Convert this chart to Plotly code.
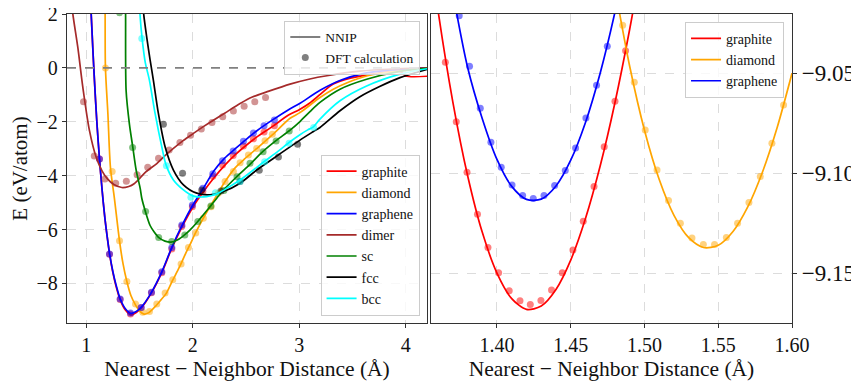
import plotly.graph_objects as go

# ---- left panel: NNIP curves ----
graphite_x = [1.035, 1.047, 1.062, 1.078, 1.10, 1.125, 1.15, 1.175, 1.20, 1.22, 1.25, 1.28, 1.32, 1.37, 1.42,
              1.47, 1.52, 1.61, 1.71, 1.80, 1.90, 2.0, 2.1, 2.2, 2.3, 2.4, 2.5, 2.6, 2.75, 2.9, 3.0, 3.1,
              3.2, 3.32, 3.48, 3.7, 3.9, 3.96, 4.0, 4.2]
graphite_y = [2.8, 2.0, 0.75, -0.48, -2.0, -3.38, -4.55, -5.55, -6.35, -6.92, -7.58, -8.1, -8.62, -9.0, -9.17,
              -9.08, -8.9, -8.37, -7.6, -6.73, -5.9, -5.18, -4.6, -4.08, -3.62, -3.22, -2.88, -2.57, -2.17, -1.75,
              -1.55, -1.3, -0.97, -0.6, -0.38, -0.22, -0.12, -0.15, -0.30, -0.31]

graphene_x = [1.035, 1.047, 1.062, 1.078, 1.10, 1.125, 1.15, 1.175, 1.20, 1.22, 1.25, 1.28, 1.32, 1.37, 1.42,
              1.47, 1.52, 1.61, 1.71, 1.80, 1.90, 2.0, 2.1, 2.2, 2.3, 2.4, 2.5, 2.6, 2.75, 2.9, 3.0, 3.2,
              3.4, 3.6, 3.8, 4.0, 4.2]
graphene_y = [2.8, 2.0, 0.75, -0.48, -2.0, -3.38, -4.55, -5.55, -6.35, -6.9, -7.55, -8.05, -8.58, -8.95, -9.11,
              -9.04, -8.87, -8.35, -7.57, -6.7, -5.85, -5.1, -4.47, -3.82, -3.35, -3.0, -2.66, -2.34, -1.93, -1.55,
              -1.33, -0.82, -0.44, -0.21, -0.1, -0.04, 0.0]

diamond_x = [1.176, 1.178, 1.181, 1.204, 1.228, 1.265, 1.313, 1.345, 1.382, 1.42, 1.463, 1.50, 1.543, 1.59,
             1.65, 1.70, 1.75, 1.81, 1.875, 1.93, 1.976, 2.03, 2.116, 2.2, 2.304, 2.4, 2.476, 2.6, 2.75, 2.914,
             3.007, 3.195, 3.32, 3.45, 3.633, 3.8, 3.946, 4.2]
diamond_y = [3.0, 2.0, 0.0, -1.71, -3.7, -4.84, -6.42, -7.25, -7.93, -8.45, -8.8, -9.02, -9.14, -9.08,
             -8.85, -8.62, -8.38, -7.9, -7.4, -6.92, -6.55, -6.1, -5.46, -4.9, -4.22, -3.7, -3.42, -3.0, -2.48,
             -1.87, -1.66, -1.1, -0.79, -0.55, -0.3, -0.18, -0.11, -0.02]

dimer_x = [0.86, 0.875, 0.922, 0.969, 1.031, 1.094, 1.15, 1.20, 1.26, 1.335, 1.40, 1.45, 1.507, 1.56, 1.663,
           1.74, 1.819, 1.91, 2.007, 2.1, 2.194, 2.3, 2.445, 2.56, 2.695, 2.914, 3.1, 3.26, 3.57, 3.88, 4.2]
dimer_y = [2.6, 2.0, 0.75, -0.73, -2.33, -3.32, -3.83, -4.12, -4.33, -4.44, -4.4, -4.3, -4.08, -3.86, -3.55,
           -3.26, -2.99, -2.7, -2.43, -2.18, -1.94, -1.68, -1.32, -1.08, -0.89, -0.60, -0.41, -0.29, -0.12, -0.04, 0.0]

sc_x = [1.368, 1.370, 1.375, 1.406, 1.438, 1.469, 1.507, 1.522, 1.556, 1.60, 1.64, 1.682, 1.74, 1.797, 1.86,
        1.929, 1.976, 2.048, 2.163, 2.226, 2.273, 2.413, 2.538, 2.657, 2.782, 2.914, 3.007, 3.101, 3.195, 3.383,
        3.633, 3.946, 4.2]
sc_y = [2.5, 2.0, -0.85, -2.09, -2.95, -3.79, -4.47, -4.84, -5.33, -5.85, -6.1, -6.3, -6.43, -6.47, -6.38,
        -6.18, -6.01, -5.70, -5.15, -4.84, -4.6, -4.04, -3.58, -3.11, -2.70, -2.31, -1.99, -1.62, -1.28, -0.79,
        -0.42, -0.13, -0.02]

fcc_x = [1.53, 1.54, 1.57, 1.60, 1.631, 1.678, 1.741, 1.819, 1.913, 2.038, 2.163, 2.288, 2.445, 2.601, 2.757,
         2.914, 3.007, 3.13, 3.195, 3.383, 3.57, 3.75, 3.946, 4.2]
fcc_y = [2.6, 2.0, 1.1, 0.3, -0.46, -1.69, -2.93, -3.79, -4.34, -4.65, -4.71, -4.59, -4.28, -3.79, -3.36,
         -2.93, -2.68, -2.37, -2.21, -1.59, -1.07, -0.7, -0.36, -0.05]

bcc_x = [1.50, 1.505, 1.525, 1.555, 1.594, 1.647, 1.71, 1.75, 1.819, 1.913, 2.0, 2.13, 2.24, 2.34, 2.445, 2.55,
         2.663, 2.8, 2.914, 3.007, 3.08, 3.13, 3.195, 3.383, 3.633, 3.946, 4.2]
bcc_y = [2.5, 2.0, 1.1, 0.2, -0.46, -1.69, -2.93, -3.6, -4.16, -4.53, -4.75, -4.78, -4.65, -4.42, -4.16, -3.85,
         -3.5, -3.1, -2.74, -2.48, -2.3, -2.2, -1.9, -1.22, -0.67, -0.23, -0.03]

# ---- left panel: DFT points ----
graphite_dft_x = [1.125, 1.219, 1.319, 1.416, 1.516, 1.613, 1.71, 1.804, 1.898, 1.997, 2.095, 2.189, 2.28,
                  2.38, 2.476, 2.57, 2.67, 2.767]
graphite_dft_y = [-3.38, -6.92, -8.6, -9.14, -8.9, -8.35, -7.6, -6.72, -5.88, -5.15, -4.58, -4.02, -3.6,
                  -3.25, -2.9, -2.63, -2.38, -2.15]
graphene_dft_x = graphite_dft_x
graphene_dft_y = [-3.38, -6.91, -8.58, -9.10, -8.89, -8.33, -7.57, -6.67, -5.83, -5.09, -4.47, -3.93, -3.45,
                  -3.08, -2.72, -2.42, -2.15, -1.93]
diamond_dft_x = [1.181, 1.244, 1.313, 1.382, 1.463, 1.532, 1.594, 1.663, 1.741, 1.813, 1.891, 1.96, 2.029,
                 2.1, 2.173, 2.24, 2.304, 2.382, 2.445, 2.523, 2.601, 2.679, 2.748]
diamond_dft_y = [0.0, -3.85, -6.42, -7.93, -8.76, -9.07, -9.04, -8.76, -8.36, -7.86, -7.28, -6.67, -6.13,
                 -5.58, -5.15, -4.65, -4.22, -3.85, -3.52, -3.23, -2.99, -2.70, -2.46]
dimer_dft_x = [0.975, 1.076, 1.176, 1.277, 1.377, 1.478, 1.578, 1.679, 1.779, 1.88, 1.98, 2.081, 2.181, 2.282,
               2.382, 2.483, 2.583, 2.684]
dimer_dft_y = [-1.26, -3.27, -4.12, -4.28, -4.21, -3.97, -3.69, -3.35, -3.05, -2.77, -2.5, -2.27, -2.03, -1.81,
               -1.60, -1.42, -1.26, -1.10]
sc_dft_x = [1.313, 1.436, 1.558, 1.681, 1.803, 1.926, 2.048, 2.171, 2.293, 2.416, 2.538, 2.661, 2.783, 2.906]
sc_dft_y = [2.05, -2.95, -5.33, -6.30, -6.44, -6.2, -5.70, -5.13, -4.55, -4.04, -3.54, -3.11, -2.71, -2.34]
fcc_dft_x = [1.725, 1.905, 2.085, 2.265, 2.445, 2.625, 2.805, 2.985]
fcc_dft_y = [-2.09, -3.91, -4.53, -4.57, -4.22, -3.8, -3.31, -2.83]
bcc_dft_x = [1.522, 1.753, 1.983, 2.214, 2.444, 2.675, 2.905, 3.136]
bcc_dft_y = [1.09, -3.63, -4.8, -4.63, -4.22, -3.48, -2.8, -2.21]

# ---- right panel (zoom near minima) ----
zoom_graphite_x = [1.35, 1.36, 1.37, 1.38, 1.39, 1.40, 1.41, 1.42, 1.43, 1.44, 1.45, 1.46, 1.47, 1.48, 1.49, 1.50]
zoom_graphite_y = [-8.9635, -9.0183, -9.0640, -9.1009, -9.1295, -9.1500, -9.1628, -9.1682, -9.1665, -9.1582,
                   -9.1435, -9.1227, -9.0963, -9.0646, -9.0278, -8.9864]
zoom_graphene_x = [1.36, 1.37, 1.38, 1.39, 1.40, 1.41, 1.42, 1.43, 1.44, 1.45, 1.46, 1.47, 1.48, 1.49]
zoom_graphene_y = [-8.9662, -9.0093, -9.0467, -9.0726, -9.0931, -9.1066, -9.1131, -9.1130, -9.1064, -9.0935,
                   -9.0746, -9.0498, -9.0193, -8.9834]
zoom_diamond_x = [1.48, 1.49, 1.50, 1.51, 1.52, 1.53, 1.54, 1.55, 1.56, 1.57, 1.58, 1.59, 1.60]
zoom_diamond_y = [-9.0073, -9.0466, -9.0785, -9.1032, -9.1211, -9.1323, -9.1372, -9.1361, -9.1292, -9.1169,
                  -9.0994, -9.077, -9.05]

zoom_graphite_dft_x = [1.365, 1.3724, 1.3797, 1.3868, 1.3939, 1.4011, 1.4083, 1.4156, 1.4226, 1.4298, 1.437,
                       1.4443, 1.4515, 1.4585, 1.4658, 1.4727, 1.48, 1.4872]
zoom_graphite_dft_y = [-9.0445, -9.0742, -9.0995, -9.1205, -9.1372, -9.1499, -9.1589, -9.1639, -9.1657, -9.1637,
                       -9.1585, -9.1499, -9.1385, -9.124, -9.1067, -9.0867, -9.064, -9.0387]
zoom_graphene_dft_x = [1.3744, 1.3814, 1.3887, 1.3959, 1.4029, 1.4102, 1.4174, 1.4246, 1.4319, 1.4391, 1.4463,
                       1.4533, 1.4603, 1.4675, 1.4748]
zoom_graphene_dft_y = [-9.0212, -9.0465, -9.0675, -9.0845, -9.097, -9.1059, -9.1112, -9.1127, -9.1112, -9.1062,
                       -9.0987, -9.0874, -9.0724, -9.056, -9.0364]
zoom_diamond_dft_x = [1.4852, 1.4931, 1.5005, 1.5085, 1.5163, 1.5243, 1.5322, 1.5399, 1.5475, 1.5555, 1.5631,
                      1.5708, 1.5785, 1.5864, 1.5943]
zoom_diamond_dft_y = [-9.0259, -9.0545, -9.0784, -9.0984, -9.1137, -9.125, -9.1324, -9.1357, -9.1357, -9.1322,
                      -9.125, -9.1147, -9.1017, -9.085, -9.0659]

colors = {
    'graphite': '#ff0000',
    'diamond': '#ffa500',
    'graphene': '#0000ff',
    'dimer': '#a52a2a',
    'sc': '#008000',
    'fcc': '#000000',
    'bcc': '#00ffff',
}

FONT = 'Liberation Serif'
AXIS_COLOR = '#333333'
GRID_COLOR = '#dcdcdc'

fig = go.Figure()

left_sets = [
    ('graphite', graphite_x, graphite_y, graphite_dft_x, graphite_dft_y),
    ('diamond', diamond_x, diamond_y, diamond_dft_x, diamond_dft_y),
    ('graphene', graphene_x, graphene_y, graphene_dft_x, graphene_dft_y),
    ('dimer', dimer_x, dimer_y, dimer_dft_x, dimer_dft_y),
    ('sc', sc_x, sc_y, sc_dft_x, sc_dft_y),
    ('fcc', fcc_x, fcc_y, fcc_dft_x, fcc_dft_y),
    ('bcc', bcc_x, bcc_y, bcc_dft_x, bcc_dft_y),
]

for name, lx, ly, dx, dy in left_sets:
    fig.add_trace(go.Scatter(
        x=lx, y=ly, mode='lines', name=name,
        line=dict(color=colors[name], width=1.7, shape='spline', smoothing=0.8),
        xaxis='x', yaxis='y', legend='legend2'
    ))
    fig.add_trace(go.Scatter(
        x=dx, y=dy, mode='markers', showlegend=False,
        marker=dict(color=colors[name], size=7, opacity=0.5),
        xaxis='x', yaxis='y', cliponaxis=True
    ))

# legend-only entries for line / marker meaning
fig.add_trace(go.Scatter(x=[None], y=[None], mode='lines', name='NNIP',
                         line=dict(color='#808080', width=2), xaxis='x', yaxis='y', legend='legend'))
fig.add_trace(go.Scatter(x=[None], y=[None], mode='markers', name='DFT calculation',
                         marker=dict(color='#808080', size=7), xaxis='x', yaxis='y', legend='legend'))

right_sets = [
    ('graphite', zoom_graphite_x, zoom_graphite_y, zoom_graphite_dft_x, zoom_graphite_dft_y),
    ('diamond', zoom_diamond_x, zoom_diamond_y, zoom_diamond_dft_x, zoom_diamond_dft_y),
    ('graphene', zoom_graphene_x, zoom_graphene_y, zoom_graphene_dft_x, zoom_graphene_dft_y),
]

for name, lx, ly, dx, dy in right_sets:
    fig.add_trace(go.Scatter(
        x=lx, y=ly, mode='lines', name=name,
        line=dict(color=colors[name], width=1.7, shape='spline', smoothing=0.8),
        xaxis='x2', yaxis='y2', legend='legend3'
    ))
    fig.add_trace(go.Scatter(
        x=dx, y=dy, mode='markers', showlegend=False,
        marker=dict(color=colors[name], size=7, opacity=0.5),
        xaxis='x2', yaxis='y2', cliponaxis=True
    ))

# dashed zero line on the left panel
fig.add_shape(type='line', xref='x domain', yref='y', x0=0, x1=1, y0=0, y1=0,
              line=dict(color='#808080', width=1.6, dash='dash'))

axis_common = dict(
    showline=True, mirror=True, linecolor=AXIS_COLOR, linewidth=1.3,
    ticks='outside', ticklen=4, tickcolor=AXIS_COLOR, tickwidth=1.2,
    showgrid=True, gridcolor=GRID_COLOR, griddash='dash', gridwidth=0.8,
    zeroline=False, automargin=False, ticklabeloverflow='allow',
)

xtitle = 'Nearest \u2212 Neighbor Distance (\u00c5)'

legend_common = dict(
    bgcolor='rgba(255,255,255,0.8)', bordercolor='#cccccc', borderwidth=1,
    itemwidth=30, tracegroupgap=0,
)

# page body has an 8px margin, so the figure is 8px smaller than the window
fig.update_layout(
    width=851, height=377,
    margin=dict(l=58.7, r=67.3, t=6, b=61.7),
    plot_bgcolor='white', paper_bgcolor='white',
    font=dict(family=FONT, size=20, color='#111111'),
    xaxis=dict(domain=[0, 0.4966], range=[0.82, 4.2], tickvals=[1, 2, 3, 4],
               tickfont=dict(size=20),
               title=dict(text=xtitle, font=dict(size=21.5), standoff=5), **axis_common),
    yaxis=dict(range=[-9.47, 2.002], tickvals=[-8, -6, -4, -2, 0, 2],
               tickfont=dict(size=20),
               title=dict(text='E (eV/atom)', font=dict(size=21), standoff=8), **axis_common),
    xaxis2=dict(domain=[0.5021, 1], range=[1.3553, 1.60], anchor='y2',
                tickvals=[1.40, 1.45, 1.50, 1.55, 1.60], tickformat='.2f',
                tickfont=dict(size=20),
                title=dict(text=xtitle, font=dict(size=21.5), standoff=5), **axis_common),
    yaxis2=dict(range=[-9.175, -9.0203], anchor='x2', side='right',
                tickvals=[-9.15, -9.10, -9.05], tickformat='.2f',
                tickfont=dict(size=23), **axis_common),
    legend=dict(x=0.4873, y=0.978, xanchor='right', yanchor='top',
                font=dict(size=13.5), **legend_common),
    legend2=dict(x=0.4863, y=0.024, xanchor='right', yanchor='bottom',
                 font=dict(size=14), **legend_common),
    legend3=dict(x=0.989, y=0.975, xanchor='right', yanchor='top',
                 font=dict(size=14), **legend_common),
)

fig.write_html("out.html")
